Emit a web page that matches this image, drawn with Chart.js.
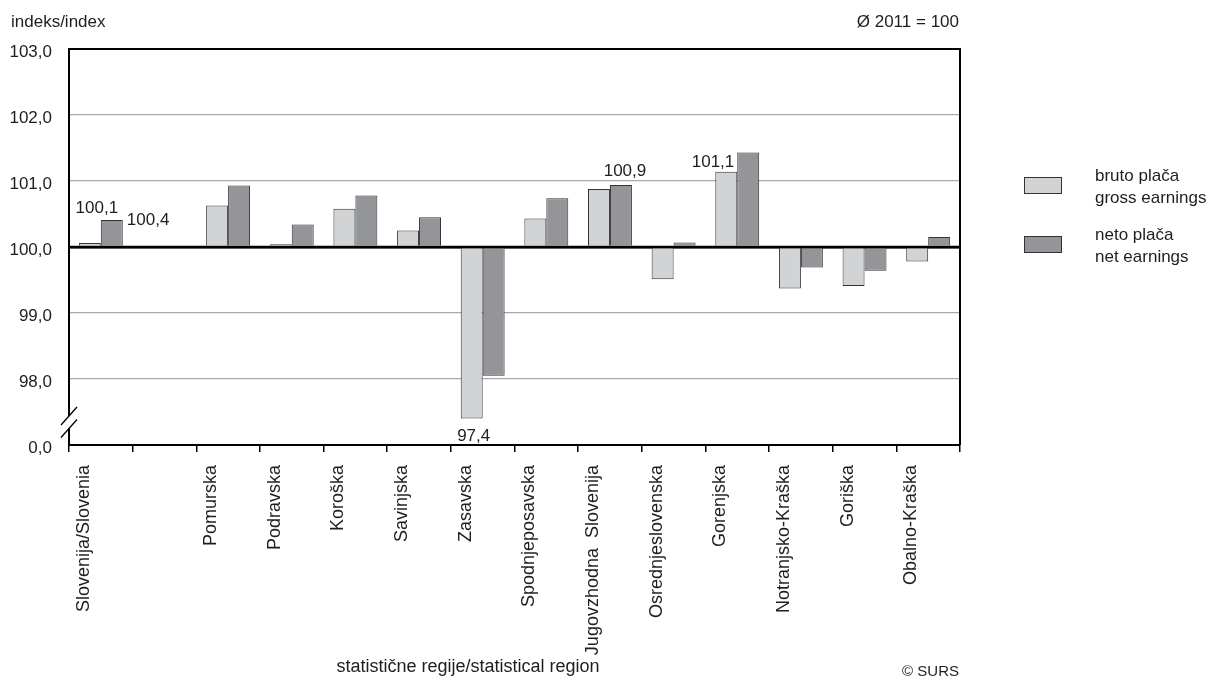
<!DOCTYPE html>
<html>
<head>
<meta charset="utf-8">
<script src="https://cdn.jsdelivr.net/npm/chart.js@4/dist/chart.umd.min.js"></script>
<style>
  html, body { margin: 0; padding: 0; background: #fff; }
  #wrap { width: 1215px; height: 683px; }
</style>
</head>
<body>
<div id="wrap"><canvas id="bar-chart" width="1215" height="683"></canvas></div>
<script>
// regions (empty slot after Slovenia is a gap in the original)
const regions = ["Slovenija/Slovenia", "", "Pomurska", "Podravska", "Koroška", "Savinjska", "Zasavska",
  "Spodnjeposavska", "Jugovzhodna  Slovenija", "Osrednjeslovenska", "Gorenjska",
  "Notranjsko-Kraška", "Goriška", "Obalno-Kraška"];
const grossIndex = [100.06, null, 100.63, 100.04, 100.58, 100.25, 97.4, 100.43, 100.88, 99.51, 101.14, 99.37, 99.41, 99.78];
const netIndex   = [100.41, null, 100.93, 100.34, 100.78, 100.45, 98.05, 100.74, 100.94, 100.07, 101.43, 99.69, 99.64, 100.15];
const seriesNames = [["bruto plača", "gross earnings"], ["neto plača", "net earnings"]];
const yTicks = [97, 98, 99, 100, 101, 102, 103];
const yTickText = ["0,0", "98,0", "99,0", "100,0", "101,0", "102,0", "103,0"];

const ink = '#1e1e1e';
const fmt = v => v.toFixed(1).replace('.', ',');

// value labels shown on a few bars only
const callouts = [
  { series: 0, index: 0, align: 'center', dx: 7, dy: -30 },
  { series: 1, index: 0, align: 'left', dx: 15, dy: 5 },
  { series: 0, index: 6, align: 'center', dx: 2, dy: 22 },
  { series: 1, index: 8, align: 'center', dx: 4, dy: -9 },
  { series: 0, index: 10, align: 'right', dx: 8, dy: -5 }
];

const decor = {
  id: 'decor',
  afterDatasetsDraw(chart) {
    const ctx = chart.ctx, a = chart.chartArea, y = chart.scales.y;
    ctx.save();
    // frame top and right, base line at 100
    ctx.strokeStyle = '#000';
    ctx.lineWidth = 2;
    ctx.beginPath();
    ctx.moveTo(a.left, a.top); ctx.lineTo(a.right, a.top); ctx.lineTo(a.right, a.bottom);
    ctx.stroke();
    ctx.lineWidth = 2.5;
    const y100 = y.getPixelForValue(100);
    ctx.beginPath(); ctx.moveTo(a.left, y100); ctx.lineTo(a.right, y100); ctx.stroke();

    // axis break
    const b1 = y.getPixelForValue(97.44), b2 = y.getPixelForValue(97.25);
    ctx.fillStyle = '#fff';
    ctx.fillRect(a.left - 2, b1, 4, b2 - b1);
    ctx.lineWidth = 1.3;
    [b1, b2].forEach(p => {
      ctx.beginPath(); ctx.moveTo(a.left - 8, p + 9); ctx.lineTo(a.left + 8, p - 9); ctx.stroke();
    });

    // value labels
    ctx.fillStyle = ink;
    ctx.font = '17px "Liberation Sans", Arial, sans-serif';
    ctx.textBaseline = 'alphabetic';
    callouts.forEach(c => {
      const el = chart.getDatasetMeta(c.series).data[c.index];
      const v = chart.data.datasets[c.series].data[c.index];
      ctx.textAlign = c.align;
      ctx.fillText(fmt(v), el.x + c.dx, el.y + c.dy);
    });

    // header and footer texts
    ctx.textAlign = 'left';
    ctx.fillText('indeks/index', 11, 27);
    ctx.textAlign = 'right';
    ctx.fillText('Ø 2011 = 100', 959, 27);
    ctx.font = '15px "Liberation Sans", Arial, sans-serif';
    ctx.fillText('© SURS', 959, 676);
    ctx.textAlign = 'center';
    ctx.font = '18px "Liberation Sans", Arial, sans-serif';
    ctx.fillText('statistične regije/statistical region', 468, 672);

    // legend
    ctx.font = '17px "Liberation Sans", Arial, sans-serif';
    chart.data.datasets.forEach((ds, i) => {
      const top = 177 + i * 59;
      ctx.fillStyle = ds.backgroundColor;
      ctx.fillRect(1024, top, 38, 17);
      ctx.strokeStyle = ds.borderColor;
      ctx.lineWidth = 1;
      ctx.strokeRect(1024.5, top + 0.5, 37, 16);
      ctx.fillStyle = ink;
      ctx.textAlign = 'left';
      ctx.fillText(seriesNames[i][0], 1095, top + 4);
      ctx.fillText(seriesNames[i][1], 1095, top + 26);
    });
    ctx.restore();
  }
};

Chart.defaults.font.family = '"Liberation Sans", Arial, sans-serif';
Chart.defaults.color = ink;

new Chart(document.getElementById("bar-chart"), {
  type: 'bar',
  data: {
    labels: regions,
    datasets: [{
        label: seriesNames[0].join(' / '),
        data: grossIndex,
        base: 100,
        backgroundColor: '#d1d3d4',
        borderColor: '#333333',
        borderWidth: 1,
        barPercentage: 1,
        categoryPercentage: 0.69
      }, {
        label: seriesNames[1].join(' / '),
        data: netIndex,
        base: 100,
        backgroundColor: '#939598',
        borderColor: '#333333',
        borderWidth: 1,
        barPercentage: 1,
        categoryPercentage: 0.69
      }
    ]
  },
  options: {
    responsive: false,
    animation: false,
    layout: { padding: { left: 0, top: 49, right: 255, bottom: 0 } },
    plugins: { legend: { display: false }, tooltip: { enabled: false } },
    scales: {
      x: {
        offset: true,
        afterFit(scale) { scale.height = 238; },
        grid: { display: true, drawOnChartArea: false, drawTicks: true, tickLength: 7, offset: true, color: '#000', lineWidth: 1.5 },
        border: { display: true, color: '#000', width: 2 },
        ticks: {
          autoSkip: false, maxRotation: 90, minRotation: 90, padding: 13,
          labelOffset: c => c.index === 0 ? -2 : -17,
          font: { size: 18 }
        }
      },
      y: {
        min: 97,
        max: 103,
        afterFit(scale) { scale.width = 69; },
        afterBuildTicks(scale) { scale.ticks = yTicks.map(v => ({ value: v })); },
        grid: {
          drawTicks: false,
          color: c => (c.tick.value === 97 || c.tick.value === 103) ? 'rgba(0,0,0,0)' : (c.tick.value === 100 ? '#000' : '#a7a9ac'),
          lineWidth: c => c.tick.value === 100 ? 2.5 : 1.3
        },
        border: { display: true, color: '#000', width: 2 },
        ticks: {
          padding: 17,
          labelOffset: 3,
          font: { size: 17 },
          callback: v => yTickText[yTicks.indexOf(v)]
        }
      }
    }
  },
  plugins: [decor]
});
</script>
</body>
</html>
